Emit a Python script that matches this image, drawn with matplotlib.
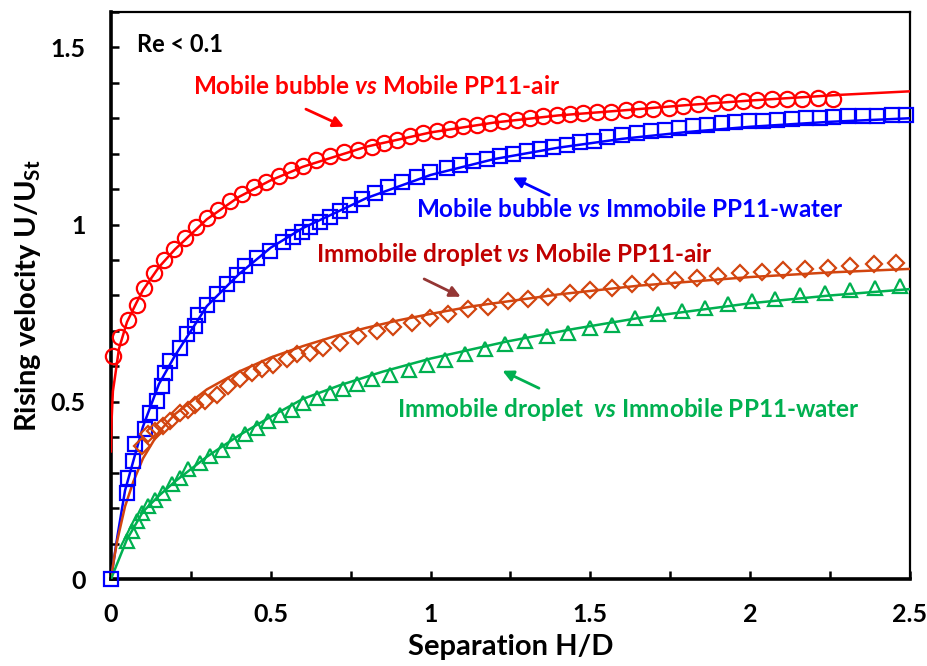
import numpy as np
import matplotlib
matplotlib.use("Agg")
import matplotlib.pyplot as plt
from matplotlib.ticker import MultipleLocator, FuncFormatter

plt.rcParams['font.family'] = ['Lato', 'DejaVu Sans']
plt.rcParams['font.weight'] = 'bold'
plt.rcParams['mathtext.fontset'] = 'custom'
plt.rcParams['mathtext.rm'] = 'Lato:bold'
plt.rcParams['mathtext.it'] = 'Lato:bold:italic'
plt.rcParams['mathtext.bf'] = 'Lato:bold'

# --- data ---
# Mobile bubble vs Mobile PP11-air (circles + fit line)
red_x = [0.005, 0.028, 0.054, 0.080, 0.104, 0.136, 0.167, 0.197, 0.232, 0.265, 0.299, 0.334,
         0.372, 0.409, 0.447, 0.484, 0.526, 0.563, 0.602, 0.640, 0.685, 0.729, 0.774, 0.816,
         0.855, 0.894, 0.936, 0.977, 1.019, 1.061, 1.102, 1.144, 1.186, 1.228, 1.269, 1.311,
         1.353, 1.394, 1.436, 1.478, 1.520, 1.565, 1.610, 1.653, 1.697, 1.746, 1.791, 1.838,
         1.885, 1.930, 1.977, 2.022, 2.069, 2.114, 2.161, 2.213, 2.260]
red_y = [0.629, 0.683, 0.732, 0.774, 0.821, 0.864, 0.899, 0.932, 0.962, 0.993, 1.019, 1.042,
         1.066, 1.087, 1.105, 1.120, 1.136, 1.155, 1.166, 1.181, 1.193, 1.204, 1.210, 1.219,
         1.230, 1.240, 1.249, 1.257, 1.264, 1.271, 1.277, 1.282, 1.287, 1.291, 1.296, 1.301,
         1.305, 1.309, 1.313, 1.316, 1.319, 1.318, 1.322, 1.325, 1.327, 1.330, 1.334, 1.339,
         1.342, 1.346, 1.348, 1.351, 1.353, 1.355, 1.355, 1.356, 1.355]
red_fit_x = [0, 0.002, 0.006, 0.0125, 0.025, 0.05, 0.08, 0.1, 0.15, 0.2, 0.3, 0.4, 0.5, 0.6,
             0.8, 1.0, 1.2, 1.4, 1.6, 1.8, 2.0, 2.28, 2.5]
red_fit_y = [0.36, 0.45, 0.53, 0.57, 0.65, 0.725, 0.78, 0.815, 0.88, 0.93, 1.015, 1.078, 1.125,
             1.163, 1.22, 1.26, 1.288, 1.308, 1.322, 1.337, 1.35, 1.366, 1.376]

# Mobile bubble vs Immobile PP11-water (squares + fit line)
blue_x = [0.0, 0.049, 0.054, 0.070, 0.075, 0.106, 0.122, 0.143, 0.159, 0.169, 0.185, 0.216,
          0.237, 0.263, 0.273, 0.299, 0.331, 0.362, 0.393, 0.419, 0.456, 0.497, 0.539, 0.570,
          0.597, 0.623, 0.654, 0.685, 0.717, 0.748, 0.786, 0.826, 0.868, 0.910, 0.957, 0.998,
          1.050, 1.092, 1.134, 1.176, 1.217, 1.259, 1.301, 1.343, 1.384, 1.426, 1.468, 1.510,
          1.551, 1.598, 1.645, 1.689, 1.733, 1.778, 1.822, 1.866, 1.911, 1.953, 1.997, 2.041,
          2.085, 2.130, 2.175, 2.218, 2.260, 2.307, 2.354, 2.396, 2.443, 2.487]
blue_y = [0.0, 0.243, 0.286, 0.332, 0.380, 0.422, 0.469, 0.502, 0.544, 0.582, 0.614, 0.652,
          0.690, 0.713, 0.746, 0.774, 0.803, 0.831, 0.859, 0.882, 0.906, 0.925, 0.950, 0.966,
          0.980, 0.993, 1.008, 1.022, 1.038, 1.054, 1.072, 1.090, 1.106, 1.120, 1.134, 1.148,
          1.160, 1.169, 1.178, 1.186, 1.193, 1.200, 1.207, 1.213, 1.220, 1.225, 1.232, 1.237,
          1.246, 1.254, 1.259, 1.263, 1.268, 1.273, 1.277, 1.282, 1.287, 1.290, 1.291, 1.293,
          1.296, 1.299, 1.301, 1.302, 1.304, 1.305, 1.305, 1.307, 1.310, 1.310]
blue_fit_x = [0, 0.02, 0.044, 0.1, 0.15, 0.2, 0.3, 0.4, 0.5, 0.6, 0.8, 1.0, 1.2, 1.4, 1.6,
              1.8, 2.0, 2.25, 2.5]
blue_fit_y = [0, 0.12, 0.25, 0.43, 0.55, 0.63, 0.77, 0.86, 0.935, 0.99, 1.075, 1.14, 1.185,
              1.217, 1.242, 1.261, 1.276, 1.29, 1.30]

# Immobile droplet vs Mobile PP11-air (diamonds + fit line)
orange_x = [0.096, 0.117, 0.138, 0.164, 0.185, 0.216, 0.242, 0.263, 0.294, 0.331, 0.367,
            0.404, 0.440, 0.472, 0.508, 0.550, 0.581, 0.623, 0.664, 0.717, 0.774, 0.831,
            0.883, 0.941, 0.998, 1.055, 1.118, 1.181, 1.243, 1.306, 1.368, 1.436, 1.499,
            1.567, 1.629, 1.697, 1.765, 1.833, 1.900, 1.968, 2.036, 2.104, 2.172, 2.245,
            2.313, 2.386, 2.456]
orange_y = [0.375, 0.408, 0.417, 0.431, 0.445, 0.469, 0.478, 0.492, 0.502, 0.520, 0.544,
            0.563, 0.582, 0.592, 0.605, 0.620, 0.634, 0.638, 0.652, 0.666, 0.685, 0.699,
            0.710, 0.723, 0.737, 0.749, 0.762, 0.767, 0.783, 0.791, 0.797, 0.807, 0.816,
            0.821, 0.831, 0.837, 0.845, 0.850, 0.856, 0.862, 0.866, 0.871, 0.875, 0.878,
            0.883, 0.888, 0.892]
orange_fit_x = [0, 0.01, 0.02, 0.044, 0.07, 0.1, 0.15, 0.2, 0.3, 0.4, 0.5, 0.6, 0.7, 0.8,
                0.9, 1.0, 1.134, 1.4, 1.655, 2.0, 2.25, 2.5]
orange_fit_y = [0, 0.06, 0.11, 0.205, 0.275, 0.34, 0.415, 0.465, 0.535, 0.585, 0.625, 0.657,
                0.685, 0.709, 0.73, 0.748, 0.77, 0.803, 0.828, 0.852, 0.865, 0.875]

# Immobile droplet vs Immobile PP11-water (triangles + fit line)
green_x = [0.049, 0.065, 0.080, 0.096, 0.117, 0.138, 0.164, 0.190, 0.216, 0.242, 0.278,
           0.310, 0.346, 0.383, 0.419, 0.456, 0.492, 0.529, 0.565, 0.602, 0.644, 0.685,
           0.727, 0.769, 0.816, 0.873, 0.931, 0.988, 1.045, 1.108, 1.170, 1.233, 1.295,
           1.363, 1.431, 1.499, 1.567, 1.640, 1.712, 1.786, 1.859, 1.932, 2.005, 2.078,
           2.156, 2.234, 2.312, 2.390, 2.469]
green_y = [0.107, 0.135, 0.163, 0.187, 0.206, 0.224, 0.243, 0.267, 0.286, 0.309, 0.328,
           0.347, 0.365, 0.389, 0.408, 0.427, 0.445, 0.464, 0.478, 0.497, 0.511, 0.525,
           0.537, 0.549, 0.563, 0.577, 0.591, 0.605, 0.619, 0.634, 0.648, 0.662, 0.671,
           0.687, 0.695, 0.709, 0.718, 0.737, 0.749, 0.755, 0.765, 0.777, 0.784, 0.791,
           0.800, 0.807, 0.815, 0.821, 0.828]
green_fit_x = [0, 0.049, 0.1, 0.15, 0.2, 0.3, 0.4, 0.5, 0.6, 0.717, 0.85, 1.0, 1.238, 1.45,
               1.655, 2.0, 2.25, 2.5]
green_fit_y = [0, 0.11, 0.19, 0.235, 0.275, 0.345, 0.405, 0.458, 0.508, 0.547, 0.585, 0.622,
               0.67, 0.706, 0.737, 0.778, 0.80, 0.818]

RED = '#FF0000'
BLUE = '#0000FF'
ORANGE = '#D2450F'
GREEN = '#00B050'

fig = plt.figure(figsize=(9.28, 6.66), dpi=100)
ax = fig.add_axes([0.1196, 0.1306, 0.861, 0.8515])

# fit lines
ax.plot(red_fit_x, red_fit_y, color=RED, lw=1.8, zorder=3)
ax.plot(blue_fit_x, blue_fit_y, color=BLUE, lw=1.8, zorder=3)
ax.plot(orange_fit_x, orange_fit_y, color=ORANGE, lw=1.8, zorder=3)
ax.plot(green_fit_x, green_fit_y, color=GREEN, lw=1.8, zorder=3)

# simulation markers
mk = dict(ls='none', mfc='none', mew=1.6, clip_on=False, zorder=4)
ax.plot(red_x, red_y, marker='o', ms=11, mec=RED, **mk)
ax.plot(blue_x, blue_y, marker='s', ms=10.5, mec=BLUE, **mk)
ax.plot(orange_x, orange_y, marker='D', ms=8.5, mec=ORANGE, **mk)
ax.plot(green_x, green_y, marker='^', ms=10.5, mec=GREEN, **mk)

ax.set_xlim(0, 2.5)
ax.set_ylim(0, 1.6)

ax.xaxis.set_major_locator(MultipleLocator(0.5))
ax.xaxis.set_minor_locator(MultipleLocator(0.25))
ax.yaxis.set_major_locator(MultipleLocator(0.5))
ax.yaxis.set_minor_locator(MultipleLocator(0.1))
fmt = FuncFormatter(lambda v, p: '%g' % v)
ax.xaxis.set_major_formatter(fmt)
ax.yaxis.set_major_formatter(fmt)

ax.tick_params(which='both', direction='in', width=1.8, length=5.5,
               top=False, right=False, labelsize=18)
ax.tick_params(axis='x', which='major', pad=17)
ax.tick_params(axis='y', which='major', pad=18)
for lab in ax.get_xticklabels() + ax.get_yticklabels():
    lab.set_fontweight('bold')

ax.spines['left'].set_linewidth(2.6)
ax.spines['bottom'].set_linewidth(2.6)
ax.spines['top'].set_linewidth(1.6)
ax.spines['right'].set_linewidth(1.6)

ax.set_xlabel('Separation H/D', fontsize=21, fontweight='bold', labelpad=6)
ax.set_ylabel(r'Rising velocity U/U$_{\mathrm{St}}$', fontsize=21, fontweight='bold', labelpad=6)

# annotations
ax.text(0.081, 1.508, 'Re < 0.1', fontsize=17, fontweight='bold', color='black', va='center')
ax.text(0.257, 1.389, r'Mobile bubble $\mathit{vs}$ Mobile PP11-air', fontsize=17.5,
        fontweight='bold', color=RED, va='center')
ax.text(0.954, 1.042, r'Mobile bubble $\mathit{vs}$ Immobile PP11-water', fontsize=17.5,
        fontweight='bold', color=BLUE, va='center')
ax.text(0.641, 0.915, r'Immobile droplet $\mathit{vs}$ Mobile PP11-air', fontsize=17.5,
        fontweight='bold', color='#C00000', va='center')
ax.text(0.895, 0.478, r'Immobile droplet  $\mathit{vs}$ Immobile PP11-water', fontsize=17.5,
        fontweight='bold', color=GREEN, va='center')

arrow = dict(arrowstyle='-|>', lw=2, mutation_scale=16)
ax.annotate('', xy=(0.737, 1.273), xytext=(0.602, 1.329), arrowprops=dict(color=RED, **arrow))
ax.annotate('', xy=(1.249, 1.136), xytext=(1.379, 1.080), arrowprops=dict(color=BLUE, **arrow))
ax.annotate('', xy=(1.102, 0.793), xytext=(0.972, 0.850), arrowprops=dict(color='#943634', **arrow))
ax.annotate('', xy=(1.217, 0.591), xytext=(1.347, 0.535), arrowprops=dict(color=GREEN, **arrow))

fig.savefig('out.png', dpi=100)
